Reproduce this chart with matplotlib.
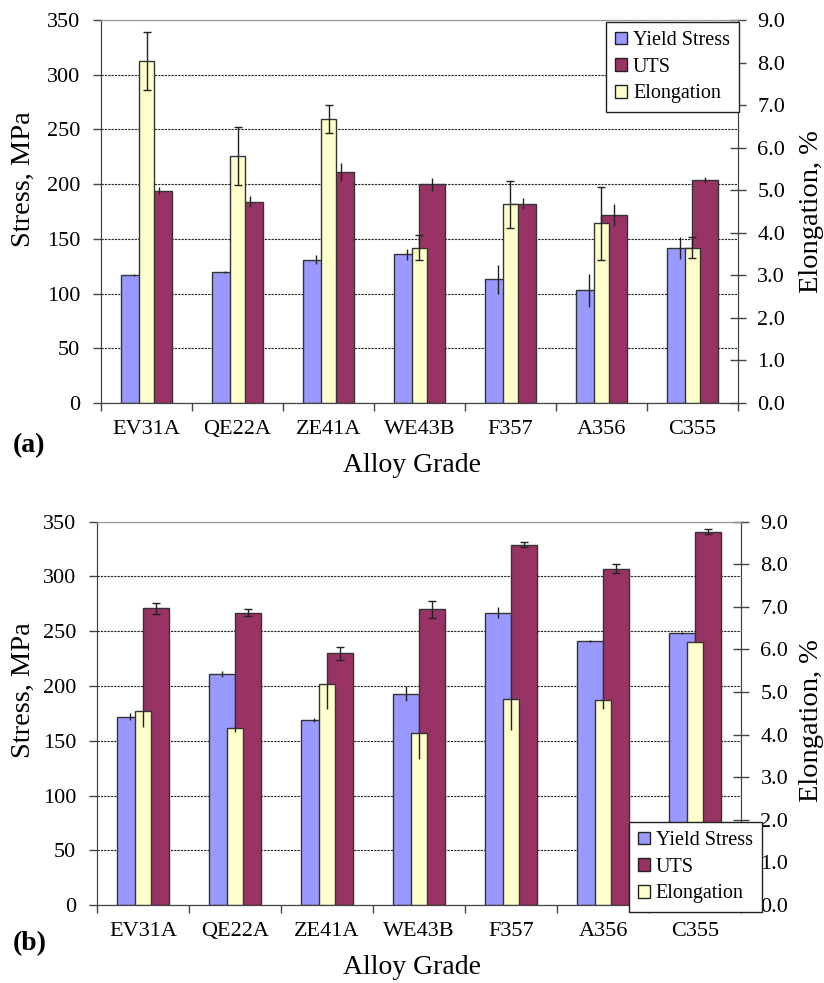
import numpy as np
import matplotlib
matplotlib.use("Agg")
import matplotlib.pyplot as plt
from matplotlib.patches import Patch

plt.rcParams['font.family'] = ['Liberation Serif', 'DejaVu Serif']

alloys = ["EV31A", "QE22A", "ZE41A", "WE43B", "F357", "A356", "C355"]

# (a)
yield_a = [117, 120, 131, 136, 113, 103, 142]
yield_a_err = [1, 1, 4, 5, 13, 15, 10]
uts_a = [194, 184, 211, 200, 182, 172, 204]
uts_a_err = [3, 5, 8, 6, 5, 10, 3]
elong_a = [8.04, 5.80, 6.67, 3.65, 4.67, 4.22, 3.65]
elong_a_err = [0.69, 0.68, 0.33, 0.30, 0.55, 0.86, 0.25]

# (b)
yield_b = [172, 211, 169, 193, 267, 241, 248]
yield_b_err = [3, 3, 2, 7, 5, 1, 1]
uts_b = [271, 267, 230, 270, 329, 307, 341]
uts_b_err = [5, 3, 6, 8, 2, 4, 2]
elong_b = [4.55, 4.15, 5.20, 4.05, 4.84, 4.82, 6.18]
elong_b_err_low = [0.37, 0.09, 0.60, 0.63, 0.74, 0.22, 0.0]

C_Y = "#9999FF"
C_U = "#993366"
C_E = "#FFFFCC"
EDGE = "#333333"

fig = plt.figure(figsize=(8.24, 9.83), dpi=100)
H = 983.0
W = 824.0


def panel(rect, ys, yse, us, use, es, ese, ecap_e, ecap_u, tag, tag_y, xl_y, ly, ry):
    ax = fig.add_axes(rect)
    ax2 = ax.twinx()
    x = np.arange(len(alloys))
    w = 0.283
    ew = 0.165
    ax.bar(x - w / 2, ys, w, color=C_Y, edgecolor=EDGE, linewidth=1, zorder=2)
    ax.bar(x + w / 2, us, w, color=C_U, edgecolor=EDGE, linewidth=1, zorder=2)
    ax.errorbar(x - w / 2, ys, yerr=yse, fmt='none', ecolor='#222222', elinewidth=1, capsize=0, zorder=3)
    ax.errorbar(x + w / 2, us, yerr=use, fmt='none', ecolor='#222222', elinewidth=1,
                capsize=ecap_u, capthick=1, zorder=3)
    ax2.bar(x, es, ew, color=C_E, edgecolor=EDGE, linewidth=1, zorder=2)
    ax2.errorbar(x, es, yerr=ese, fmt='none', ecolor='#222222', elinewidth=1,
                 capsize=ecap_e, capthick=1, zorder=3)

    ax.set_xlim(-0.5, len(alloys) - 0.5)
    ax.set_ylim(0, 350)
    ax.set_yticks(np.arange(0, 351, 50))
    ax2.set_ylim(0, 9)
    ax2.set_yticks(np.arange(0, 9.01, 1))
    ax2.set_yticklabels([f"{v:.1f}" for v in np.arange(0, 9.01, 1)])

    ax.set_xticks(x)
    ax.set_xticklabels(alloys)
    ax.set_xticks(np.arange(-0.5, len(alloys)), minor=True)
    ax.tick_params(axis='x', which='major', length=0, pad=12, labelsize=16)
    ax.tick_params(axis='x', which='minor', length=6, width=1, color='#444444', direction='out')
    ax.tick_params(axis='y', length=6, width=1, color='#444444', direction='out', pad=9, labelsize=16)
    ax2.tick_params(axis='y', length=12, width=1, color='#444444', direction='inout', pad=8, labelsize=16)

    ax.yaxis.grid(True, linestyle=(0, (2, 1)), color='#222222', linewidth=0.8)
    ax.set_axisbelow(True)

    for a in (ax, ax2):
        a.spines['top'].set_color('#999999')
        a.spines['left'].set_color('#444444')
        a.spines['right'].set_color('#444444')
        a.spines['bottom'].set_color('#444444')

    fig.text(23 / W, 1 - ly / H, "Stress, MPa", rotation=90, ha='center', va='center', fontsize=20.5)
    fig.text(812 / W, 1 - ry / H, "Elongation, %", rotation=90, ha='center', va='center', fontsize=20.5)
    fig.text(0.5, 1 - xl_y / H, "Alloy Grade", ha='center', va='center', fontsize=20)
    fig.text(0.015, 1 - tag_y / H, tag, ha='left', va='center', fontsize=20, fontweight='bold')
    return ax, ax2


panel([0.1226, 0.590, 0.773, 0.3896], yield_a, yield_a_err, uts_a, uts_a_err,
      elong_a, elong_a_err, 3, 0, "(a)", 446, 466, 179, 212)
panel([0.1177, 0.0793, 0.7816, 0.390], yield_b, yield_b_err, uts_b, uts_b_err,
      elong_b, [elong_b_err_low, [0] * len(elong_b)], 0, 3, "(b)", 944, 968, 690, 721)

handles = [Patch(facecolor=C_Y, edgecolor='#222222', linewidth=1, label="Yield Stress"),
           Patch(facecolor=C_U, edgecolor='#222222', linewidth=1, label="UTS"),
           Patch(facecolor=C_E, edgecolor='#222222', linewidth=1, label="Elongation")]

for anchor in [(739 / W, 1 - 22 / H), (762 / W, 1 - 822 / H)]:
    leg = fig.legend(handles=handles, loc='upper right', bbox_to_anchor=anchor,
                     bbox_transform=fig.transFigure, fontsize=14.5, frameon=True, fancybox=False,
                     borderaxespad=0, handlelength=0.6, handleheight=0.6, handletextpad=0.3,
                     labelspacing=0.38, borderpad=0.45, framealpha=1)
    leg.get_frame().set_edgecolor('#222222')
    leg.get_frame().set_linewidth(1)

fig.savefig("out.png", dpi=100)
